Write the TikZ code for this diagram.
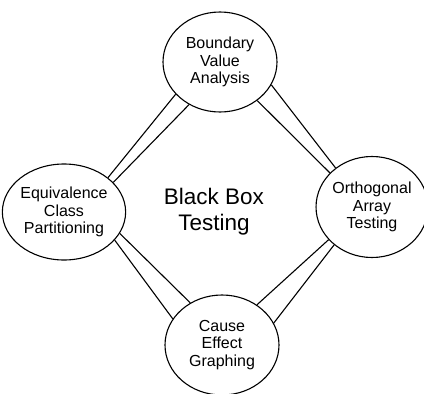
\documentclass[tikz,border=0pt]{standalone}
\usepackage{fontspec}
\setmainfont{Liberation Sans}
\usetikzlibrary{shapes.geometric}

\begin{document}
\begin{tikzpicture}[x=1pt, y=-1pt, line width=1.1pt,
    method/.style={ellipse, draw, inner sep=0pt, align=center,
      minimum width=114pt, minimum height=100pt,
      font=\fontsize{16}{17.5}\selectfont}]
    \useasboundingbox (0,0) rectangle (424,394);

    % techniques
    \node[method] (bva) at (220,62) {Boundary\\Value\\Analysis};
    \node[method, minimum width=112pt, minimum height=96pt] (ecp) at (64,212) {Equivalence\\Class\\Partitioning};
    \node[method, minimum width=98pt, minimum height=101pt] (oat) at (372,207) {Orthogonal\\Array\\Testing};
    \node[method] (ceg) at (222,345) {Cause\\Effect\\Graphing};

    % title
    \node[align=center, font=\fontsize{22.5}{26}\selectfont] (title) at (214,212) {Black Box\\Testing};

    % double links
    \draw (bva.216) -- (ecp.38);
    \draw (bva.234) -- (ecp.31);
    \draw (ecp.331) -- (ceg.152);
    \draw (ecp.339) -- (ceg.127);
    \draw (bva.314) -- (oat.141);
    \draw (bva.336) -- (oat.133);
    \draw (oat.217) -- (ceg.49);
    \draw (oat.225) -- (ceg.23);
\end{tikzpicture}
\end{document}
